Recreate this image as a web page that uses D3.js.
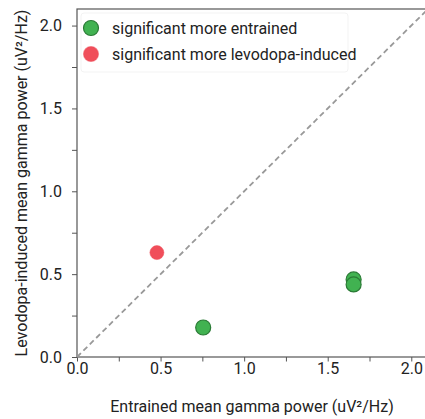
<!DOCTYPE html>
<html>
<head>
<meta charset="utf-8">
<script src="https://cdn.jsdelivr.net/npm/d3@7"></script>
<style>
  html, body { margin: 0; padding: 0; background: #fff; }
  svg { display: block; }
  text { font-family: "Roboto", sans-serif; fill: #222; }
</style>
</head>
<body>
<script>
// Mean gamma power per recording site: entrained (x) vs levodopa-induced (y)
const entrainedX = [0.755, 1.655, 1.655];
const levodopaY = [0.178, 0.468, 0.438];
const levodopaMoreX = [0.478];
const levodopaMoreY = [0.630];
const tickValues = [0.0, 0.5, 1.0, 1.5, 2.0];
const minorTickValues = [0.25, 0.75, 1.25, 1.75];
const legendLabels = ["significant more entrained", "significant more levodopa-induced"];

const width = 425, height = 419;
const margin = { left: 77, top: 9, right: -3, bottom: 62 };

const svg = d3.select("body").append("svg")
  .attr("width", width).attr("height", height);

const x = d3.scaleLinear().domain([0, 2.1]).range([margin.left, width - margin.right]);
const y = d3.scaleLinear().domain([0, 2.1]).range([height - margin.bottom, margin.top]);

const fontSize = 16;

// frame
svg.append("rect")
  .attr("x", x(0)).attr("y", y(2.1))
  .attr("width", x(2.1) - x(0)).attr("height", y(0) - y(2.1))
  .attr("fill", "none").attr("stroke", "#555").attr("stroke-width", 1.2);

// axes
const fmt = d3.format(".1f");
const xAxis = svg.append("g").attr("transform", `translate(0,${y(0)})`)
  .call(d3.axisBottom(x).tickValues(tickValues).tickFormat(fmt).tickSize(4.5).tickPadding(1));
const xMinor = svg.append("g").attr("transform", `translate(0,${y(0)})`)
  .call(d3.axisBottom(x).tickValues(minorTickValues).tickFormat("").tickSize(4.5));
const yAxis = svg.append("g").attr("transform", `translate(${x(0)},0)`)
  .call(d3.axisLeft(y).tickValues(tickValues).tickFormat(fmt).tickSize(5).tickPadding(10));
const yMinor = svg.append("g").attr("transform", `translate(${x(0)},0)`)
  .call(d3.axisLeft(y).tickValues(minorTickValues).tickFormat("").tickSize(5));

[xAxis, xMinor, yAxis, yMinor].forEach(g => {
  g.select(".domain").remove();
  g.selectAll("line").attr("stroke", "#555").attr("stroke-width", 1);
  g.selectAll("text").attr("font-size", fontSize).attr("fill", "#222")
    .attr("font-family", "Roboto, sans-serif");
});

// identity line
svg.append("line")
  .attr("x1", x(0)).attr("y1", y(0))
  .attr("x2", x(2.1)).attr("y2", y(2.1))
  .attr("stroke", "#999").attr("stroke-width", 1.8)
  .attr("stroke-dasharray", "5.5,3.5");

// legend frame (very faint)
svg.append("rect")
  .attr("x", 81).attr("y", 13).attr("width", 267).attr("height", 59)
  .attr("rx", 3).attr("fill", "#fff").attr("fill-opacity", 0.8)
  .attr("stroke", "#f3f3f3").attr("stroke-width", 1);

// points
svg.append("g").selectAll("circle")
  .data(levodopaMoreX.map((v, i) => [v, levodopaMoreY[i]]))
  .join("circle")
  .attr("cx", d => x(d[0])).attr("cy", d => y(d[1]))
  .attr("r", 7).attr("fill", "#f04e5a").attr("stroke", "#f04e5a").attr("stroke-opacity", 0.5);

svg.append("g").selectAll("circle")
  .data(entrainedX.map((v, i) => [v, levodopaY[i]]))
  .join("circle")
  .attr("cx", d => x(d[0])).attr("cy", d => y(d[1]))
  .attr("r", 7.5).attr("fill", "#41b251").attr("stroke", "#2a7a35").attr("stroke-width", 1.2);

// legend
const legendColors = [["#41b251", "#2a7a35"], ["#f04e5a", "#f04e5a"]];
const legend = svg.append("g");
legendLabels.forEach((label, i) => {
  const cy = 28 + i * 26;
  legend.append("circle").attr("cx", 91).attr("cy", cy).attr("r", 7.5)
    .attr("fill", legendColors[i][0]).attr("stroke", legendColors[i][1])
    .attr("stroke-width", 1.2).attr("stroke-opacity", i ? 0.5 : 1);
  legend.append("text").attr("x", 112).attr("y", cy).attr("dy", "0.35em")
    .attr("font-size", fontSize).text(label);
});

// axis titles
svg.append("text")
  .attr("x", (x(0) + 425) / 2 + 1).attr("y", 412)
  .attr("text-anchor", "middle").attr("font-size", fontSize)
  .text("Entrained mean gamma power (uV²/Hz)");
svg.append("text")
  .attr("transform", `translate(27,${(y(0) + y(2.1)) / 2}) rotate(-90)`)
  .attr("text-anchor", "middle").attr("font-size", fontSize)
  .text("Levodopa-induced mean gamma power (uV²/Hz)");
</script>
</body>
</html>
